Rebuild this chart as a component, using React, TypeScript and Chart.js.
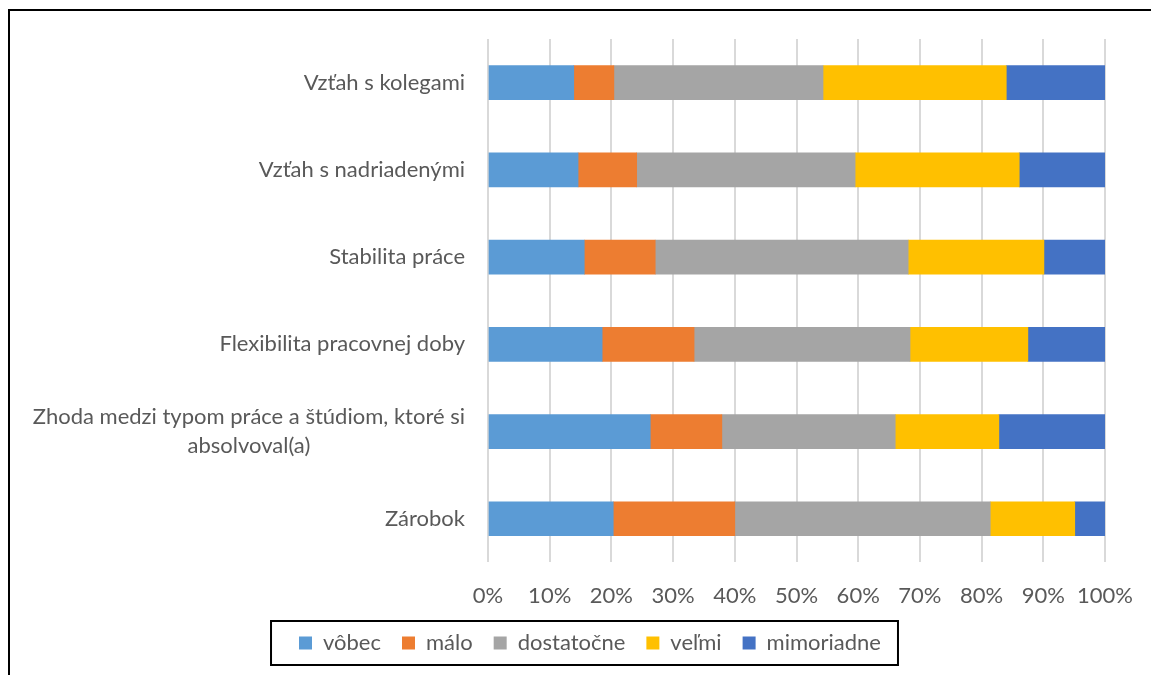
import React, { useEffect, useRef } from "react";
import { Chart, registerables } from "chart.js";

Chart.register(...registerables);

const categories: (string | string[])[] = [
  "Vzťah s kolegami",
  "Vzťah s nadriadenými",
  "Stabilita práce",
  "Flexibilita pracovnej doby",
  ["Zhoda medzi typom práce a štúdiom, ktoré si", "absolvoval(a)"],
  "Zárobok",
];

const seriesNames = ["vôbec", "málo", "dostatočne", "veľmi", "mimoriadne"];
const seriesColors = ["#5B9BD5", "#ED7D31", "#A5A5A5", "#FFC000", "#4472C4"];

const vobec = [13.9, 14.6, 15.6, 18.5, 26.3, 20.3];
const malo = [6.5, 9.5, 11.5, 14.9, 11.6, 19.7];
const dostatocne = [33.9, 35.4, 41.0, 35.0, 28.1, 41.4];
const velmi = [29.7, 26.6, 22.0, 19.1, 16.8, 13.7];
const mimoriadne = [16.0, 13.9, 9.9, 12.5, 17.2, 4.9];

const xTicks = [0, 10, 20, 30, 40, 50, 60, 70, 80, 90, 100];

const FONT = "Lato, 'Open Sans', sans-serif";
const TEXT = "#595959";

export default function App() {
  const ref = useRef<HTMLCanvasElement | null>(null);

  useEffect(() => {
    const canvas = ref.current;
    if (!canvas) return;
    const values = [vobec, malo, dostatocne, velmi, mimoriadne];

    const labelPlugin = {
      id: "catLabels",
      afterDraw(chart: any) {
        const ctx = chart.ctx as CanvasRenderingContext2D;
        const y = chart.scales.y;
        const right = 465;
        const lh = 29;
        ctx.save();
        ctx.font = `22px ${FONT}`;
        ctx.fillStyle = TEXT;
        ctx.textBaseline = "middle";
        ctx.textAlign = "center";
        chart.data.labels.forEach((lab: any, i: number) => {
          const lines: string[] = Array.isArray(lab) ? lab : [lab];
          const w = Math.max(...lines.map((l) => ctx.measureText(l).width));
          const cx = right - w / 2;
          const cy = y.getPixelForValue(i);
          const start = cy - ((lines.length - 1) * lh) / 2;
          lines.forEach((l, k) => ctx.fillText(l, cx, start + k * lh));
        });
        // legend frame
        const hb = chart.legend?.legendHitBoxes;
        if (hb && hb.length) {
          const minX = Math.min(...hb.map((h: any) => h.left));
          const maxX = Math.max(...hb.map((h: any) => h.left + h.width));
          const cyL = hb[0].top + hb[0].height / 2;
          ctx.strokeStyle = "#000";
          ctx.lineWidth = 2;
          ctx.strokeRect(minX - 28, cyL - 22, maxX - minX + 45, 44);
        }
        ctx.restore();
      },
    };

    const chart = new Chart(canvas, {
      type: "bar",
      data: {
        labels: categories as any,
        datasets: seriesNames.map((n, i) => ({
          label: n,
          data: values[i],
          backgroundColor: seriesColors[i],
          borderWidth: 0,
          barThickness: 34,
        })),
      },
      options: {
        indexAxis: "y",
        responsive: false,
        animation: false,
        devicePixelRatio: 1,
        layout: { padding: { top: 39, bottom: 11, left: 75, right: 46 } },
        scales: {
          x: {
            stacked: true,
            min: 0,
            max: 100,
            afterBuildTicks(scale: any) {
              scale.ticks = xTicks.map((v) => ({ value: v }));
            },
            afterFit(scale: any) {
              scale.height = 48.6;
              scale.paddingLeft = 0;
              scale.paddingRight = 0;
            },
            grid: { color: "#D9D9D9", lineWidth: 2, drawTicks: false },
            border: { display: false },
            ticks: {
              padding: 20,
              maxRotation: 0,
              minRotation: 0,
              autoSkip: false,
              color: TEXT,
              font: { family: FONT, size: 22 },
              callback: (v: any) => v + "%",
            },
          },
          y: {
            stacked: true,
            afterFit(scale: any) {
              scale.width = 413;
            },
            grid: { display: false },
            border: { display: false },
            ticks: { display: false },
          },
        },
        plugins: {
          legend: {
            position: "bottom",
            labels: {
              boxWidth: 13,
              boxHeight: 13,
              padding: 21,
              color: TEXT,
              font: { family: FONT, size: 22 },
            },
          },
          tooltip: { enabled: false },
        },
      },
      plugins: [labelPlugin],
    });
    return () => chart.destroy();
  }, []);

  return (
    <div style={{ position: "fixed", left: 0, top: 0, width: 1151, height: 675, background: "#fff", overflow: "hidden" }}>
      <canvas ref={ref} width={1151} height={675} style={{ width: 1151, height: 675, display: "block" }} />
      <div
        style={{
          position: "absolute",
          left: 8,
          top: 9,
          width: 1200,
          height: 700,
          borderTop: "2px solid #000",
          borderLeft: "2px solid #000",
          pointerEvents: "none",
        }}
      />
    </div>
  );
}
